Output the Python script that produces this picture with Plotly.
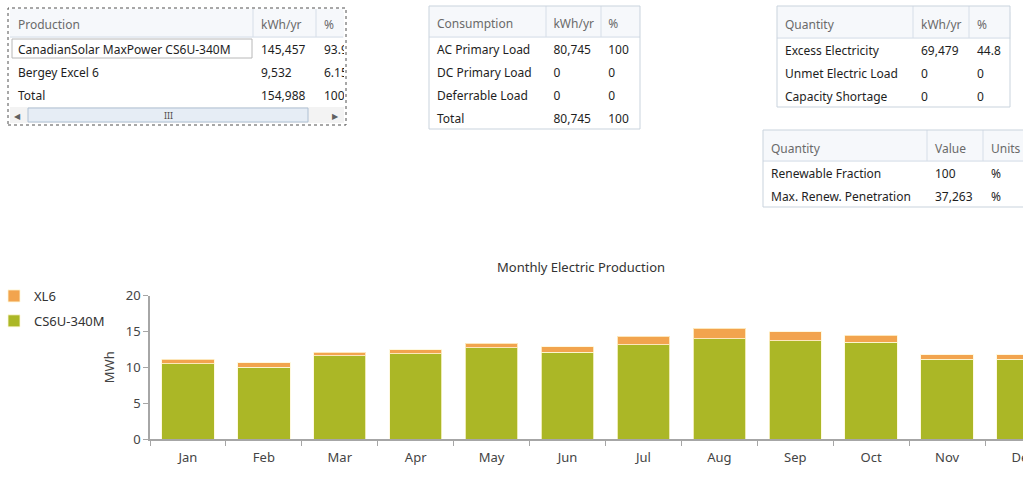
import plotly.graph_objects as go

W, H = 1023, 481
FONT = "Noto Sans"

# ---- data ----
months = ["Jan", "Feb", "Mar", "Apr", "May", "Jun",
          "Jul", "Aug", "Sep", "Oct", "Nov", "Dec"]
cs6u_mwh = [10.46, 10.0, 11.62, 11.9, 12.69, 12.09,
            13.16, 13.99, 13.67, 13.48, 11.11, 11.11]
xl6_mwh = [0.66, 0.66, 0.47, 0.52, 0.66, 0.8,
           1.16, 1.44, 1.3, 0.98, 0.66, 0.66]

prod_names = ["CanadianSolar MaxPower CS6U-340M", "Bergey Excel 6", "Total"]
prod_kwh = ["145,457", "9,532", "154,988"]
prod_pct = ["93.9", "6.15", "100"]

cons_names = ["AC Primary Load", "DC Primary Load", "Deferrable Load", "Total"]
cons_kwh = ["80,745", "0", "0", "80,745"]
cons_pct = ["100", "0", "0", "100"]

qty_names = ["Excess Electricity", "Unmet Electric Load", "Capacity Shortage"]
qty_kwh = ["69,479", "0", "0"]
qty_pct = ["44.8", "0", "0"]

ren_names = ["Renewable Fraction", "Max. Renew. Penetration"]
ren_vals = ["100", "37,263"]
ren_units = ["%", "%"]

GREEN = "#ABB726"
ORANGE = "#F2A44E"
HEAD_BG = "#F6F8FB"
SEP = "#D6DEE8"
BORDER = "#C9D3DD"
TXT = "#1E1E1E"
HEAD_TXT = "#6A6A6A"


def fx(px):
    return px / W


def fy(px):
    return 1 - px / H


def rect(x0, x1, y0, y1, **kw):
    return dict(type="rect", xref="paper", yref="paper",
                x0=fx(x0), x1=fx(x1), y0=fy(y1), y1=fy(y0), **kw)


def vline(x, y0, y1, color):
    return dict(type="line", xref="paper", yref="paper",
                x0=fx(x), x1=fx(x), y0=fy(y1), y1=fy(y0), line=dict(color=color, width=1))


def hline(x0, x1, y, color):
    return dict(type="line", xref="paper", yref="paper",
                x0=fx(x0), x1=fx(x1), y0=fy(y), y1=fy(y), line=dict(color=color, width=1))


shapes = []


def add_table(fig, x0, widths, top, head_bot, text_top, headers, cols, outline=True):
    # header text sits near the top of a plotly table cell, so the table
    # starts a bit lower and the header box is finished with shapes
    x1 = x0 + sum(widths)
    n_rows = len(cols[0])
    bottom = head_bot + 23 * n_rows
    fig.add_trace(go.Table(
        domain=dict(x=[fx(x0), fx(x1)], y=[fy(bottom + 20), fy(text_top)]),
        columnwidth=widths,
        header=dict(values=headers, height=head_bot - text_top, align="left",
                    fill_color=HEAD_BG, line=dict(color=HEAD_BG, width=1),
                    font=dict(family=FONT, size=12, color=HEAD_TXT)),
        cells=dict(values=cols, height=23, align="left",
                   fill_color="white", line=dict(color="white", width=1),
                   font=dict(family=FONT, size=12, color=TXT)),
    ))
    shapes.append(rect(x0, x1, top, head_bot, fillcolor=HEAD_BG, line=dict(width=0), layer="below"))
    shapes.append(hline(x0, x1, head_bot, SEP))
    edge = x0
    for w in widths[:-1]:
        edge += w
        shapes.append(vline(edge, top, head_bot, SEP))
    if outline:
        shapes.append(rect(x0, x1 + (8 if x1 >= W else 0), top, bottom, line=dict(color=BORDER, width=1)))


fig = go.Figure()

fig.add_trace(go.Bar(x=months, y=cs6u_mwh, name="CS6U-340M", legendrank=2,
                     marker=dict(color=GREEN, line=dict(color="rgba(255,248,215,0.8)", width=1)),
                     legendgroup="a"))
fig.add_trace(go.Bar(x=months, y=xl6_mwh, name="XL6", legendrank=1,
                     marker=dict(color=ORANGE, line=dict(color="rgba(255,248,215,0.8)", width=1)),
                     legendgroup="b"))

add_table(fig, 10, [243, 63, 27], 9, 37, 12,
          ["Production", "kWh/yr", "%"], [prod_names, prod_kwh, prod_pct], outline=False)
add_table(fig, 429, [117, 55, 39], 6, 37, 11,
          ["Consumption", "kWh/yr", "%"], [cons_names, cons_kwh, cons_pct])
add_table(fig, 777, [136, 56, 41], 6, 38, 12,
          ["Quantity", "kWh/yr", "%"], [qty_names, qty_kwh, qty_pct])
add_table(fig, 763, [164, 56, 40], 130, 161, 136,
          ["Quantity", "Value", "Units"], [ren_names, ren_vals, ren_units])

shapes += [
    # focus rectangle + selected cell of first table
    rect(8, 346, 8, 125, line=dict(color="#505050", width=1, dash="dot")),
    rect(12, 252, 39, 58, line=dict(color="#B8B8B8", width=1)),
    # scrollbar
    rect(10, 344, 107, 123, fillcolor="#F3F3F3", line=dict(width=0)),
    rect(28, 308, 108, 122, fillcolor="#E6EDF5", line=dict(color="#AFC0D3", width=1)),
]


def label(text, x, y, size, color):
    return dict(text=text, x=fx(x), y=fy(y), xref="paper", yref="paper",
                xanchor="center", yanchor="middle", showarrow=False,
                font=dict(family=FONT, size=size, color=color))


annotations = [
    label("Monthly Electric Production", 581, 267, 13, "#333333"),
    label("III", 168, 115, 9, "#505050"),
    label("◀", 17, 115, 8, "#606060"),
    label("▶", 335, 115, 8, "#606060"),
]

fig.update_layout(
    width=W, height=H,
    margin=dict(l=0, r=0, t=0, b=0, autoexpand=False),
    paper_bgcolor="white", plot_bgcolor="white",
    barmode="stack", bargap=0.31,
    font=dict(family=FONT, size=12, color="#444444"),
    shapes=shapes, annotations=annotations,
    legend=dict(x=-6 / W, y=fy(281), xanchor="left", yanchor="top",
                traceorder="grouped", tracegroupgap=5,
                font=dict(family=FONT, size=13, color="#333333"),
                bgcolor="rgba(0,0,0,0)"),
    xaxis=dict(domain=[fx(150), 1], range=[-0.5, 11], type="category",
               automargin=False,
               showline=True, linecolor="#A6A6A6", linewidth=1.5,
               ticks="outside", tickson="boundaries", ticklen=5, tickcolor="#A6A6A6",
               ticklabelstandoff=6, tickfont=dict(size=13, color="#444444"),
               showgrid=False, zeroline=False, fixedrange=True),
    yaxis=dict(domain=[42 / H, 185.5 / H], range=[0, 20], dtick=5,
               automargin=False,
               showline=True, linecolor="#A6A6A6", linewidth=1.5,
               ticks="outside", ticklen=5, tickcolor="#A6A6A6",
               tickfont=dict(size=13, color="#444444"),
               title=dict(text="MWh", font=dict(size=13, color="#444444"), standoff=8),
               showgrid=False, zeroline=False, fixedrange=True),
)

fig.write_html("out.html", config={"displayModeBar": False},
               post_script="document.body.style.margin='0';")
